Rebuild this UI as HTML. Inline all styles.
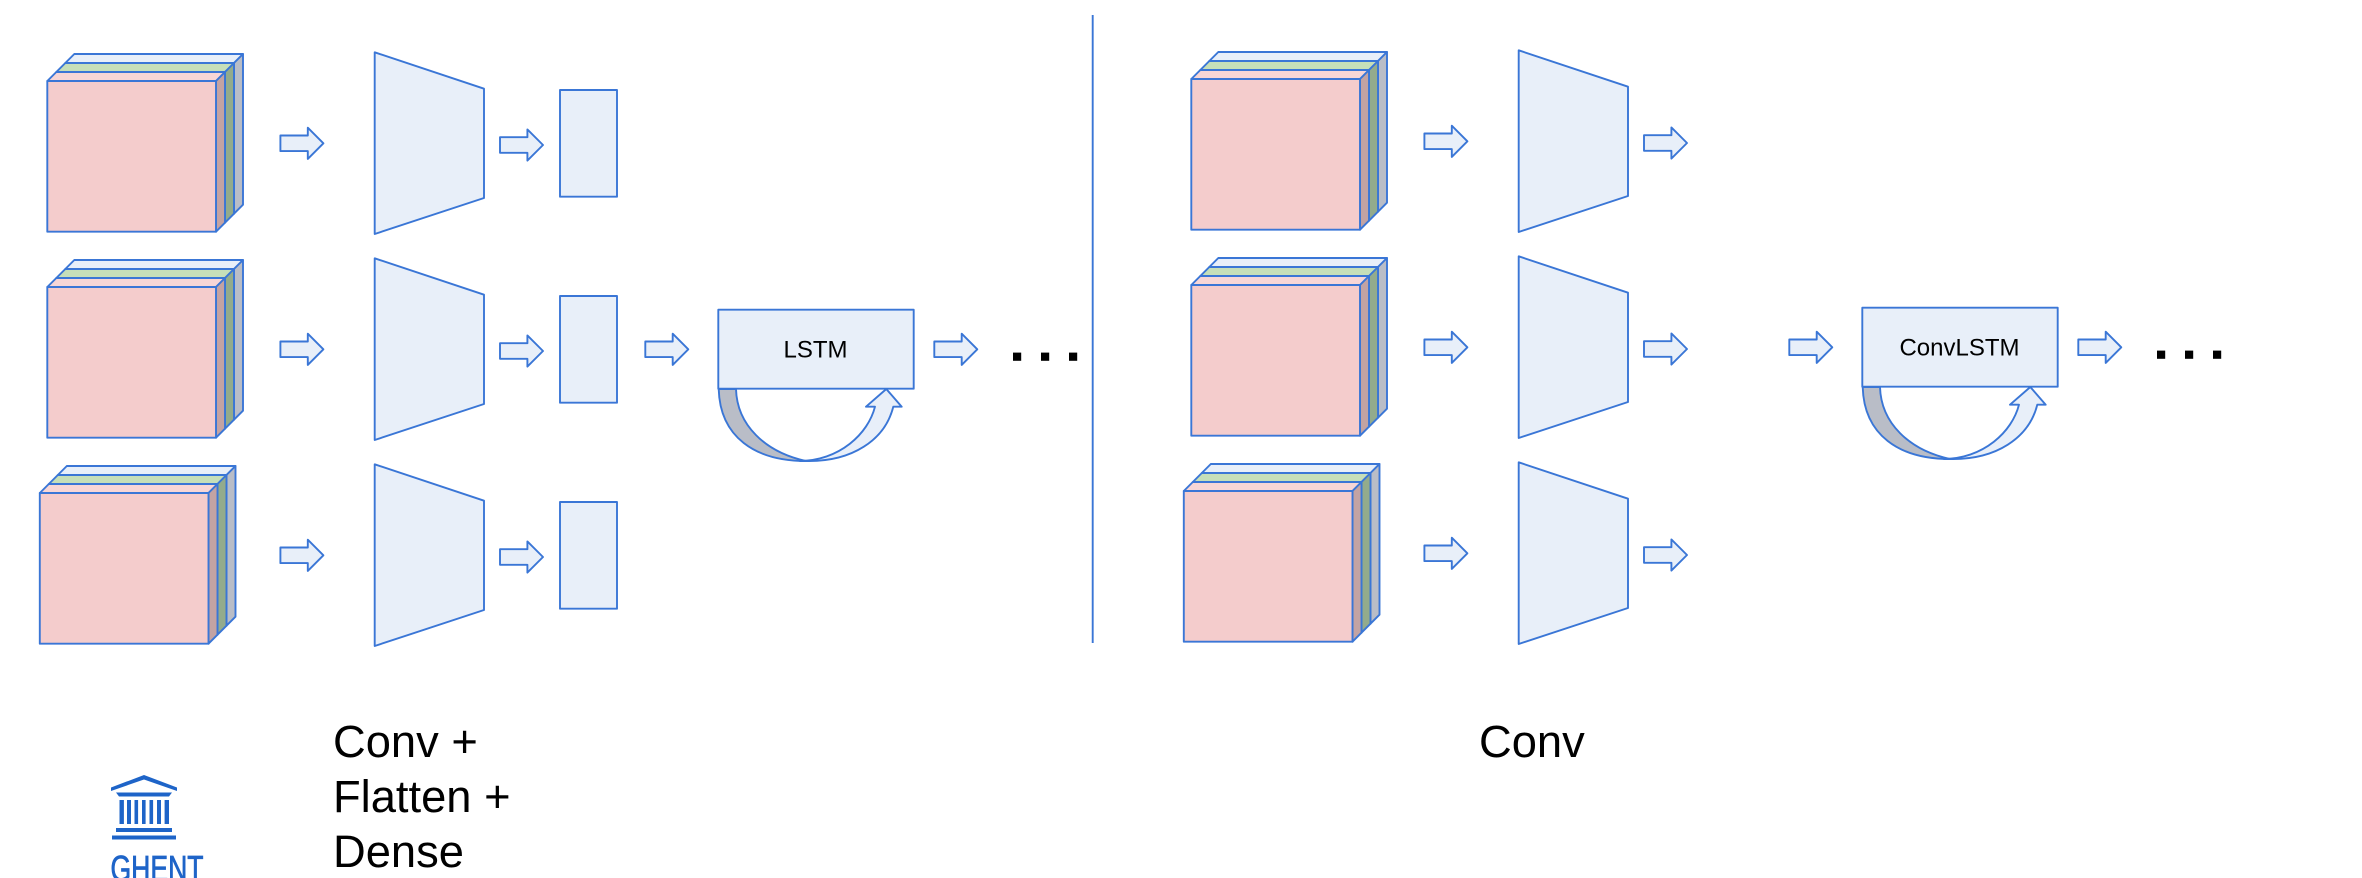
<!DOCTYPE html>
<html>
<head>
<meta charset="utf-8">
<style>
html,body{margin:0;padding:0;background:#fff;width:2362px;height:878px;overflow:hidden}
svg{display:block}
text{font-family:"Liberation Sans",sans-serif;fill:#000}
.s{stroke:#3a76d6;stroke-width:1.9;stroke-linejoin:round}
.f{fill:#e8eff9}
</style>
</head>
<body>
<svg width="2362" height="878" viewBox="0 0 2362 878" xmlns="http://www.w3.org/2000/svg">
<defs>
  <g id="cube" class="s">
    <!-- back layer -->
    <polygon points="65.3,63 74.3,54 243,54 234,63" fill="#e8eff9"/>
    <polygon points="234,63 243,54 243,204.7 234,213.7" fill="#b9bdc7"/>
    <!-- middle layer -->
    <polygon points="56.3,72 65.3,63 234,63 225,72" fill="#c6dfb9"/>
    <polygon points="225,72 234,63 234,213.7 225,222.7" fill="#93ab8c"/>
    <!-- front layer -->
    <polygon points="47.3,81 56.3,72 225,72 216,81" fill="#f7d6d6"/>
    <polygon points="216,81 225,72 225,222.7 216,231.7" fill="#c3a3a3"/>
    <rect x="47.3" y="81" width="168.7" height="150.7" fill="#f4cccc"/>
  </g>
  <polygon id="trap" class="s f" points="374.7,52.3 484,88.7 484,198 374.7,234"/>
  <polygon id="arr" class="s f" points="0,-7.8 27.4,-7.8 27.4,-15.6 43,0 27.4,15.6 27.4,7.8 0,7.8"/>
  <g id="loop" class="s">
    <path d="M718.7,389 C720,437 755,461 806,461 C765,452 737,425 736,389 Z" fill="#b9bdc7"/>
    <path d="M806,461 C852,462 885,440 893.3,406.7 L901.7,406.7 L886.3,389 L866,406.7 L875,406.7 C868,434 840,460 800,461 Z" fill="#e8eff9"/>
    <rect x="718.3" y="309.7" width="195.4" height="79" fill="#e8eff9"/>
  </g>
  <g id="dots" fill="#000">
    <rect x="1013" y="352.6" width="8.2" height="8.2"/>
    <rect x="1041" y="352.6" width="8.2" height="8.2"/>
    <rect x="1069" y="352.6" width="8.2" height="8.2"/>
  </g>
</defs>

<!-- LEFT -->
<use href="#cube"/>
<use href="#cube" y="206"/>
<use href="#cube" x="-7.5" y="412"/>
<use href="#trap"/>
<use href="#trap" y="206"/>
<use href="#trap" y="412"/>
<use href="#arr" x="280.4" y="143.3"/>
<use href="#arr" x="280.4" y="349.3"/>
<use href="#arr" x="280.4" y="555.3"/>
<use href="#arr" x="500" y="145"/>
<use href="#arr" x="500" y="351"/>
<use href="#arr" x="500" y="557"/>
<rect class="s f" x="560" y="90" width="57" height="106.7"/>
<rect class="s f" x="560" y="296" width="57" height="106.7"/>
<rect class="s f" x="560" y="502" width="57" height="106.7"/>
<use href="#arr" x="645.3" y="349.3"/>
<use href="#arr" x="934.3" y="349.3"/>
<use href="#loop"/>
<text x="815.5" y="357.6" font-size="24" text-anchor="middle">LSTM</text>
<use href="#dots"/>

<line x1="1092.7" y1="15" x2="1092.7" y2="643" stroke="#3a76d6" stroke-width="1.9"/>

<!-- RIGHT -->
<g transform="translate(1144,-2)">
  <use href="#cube"/>
  <use href="#cube" y="206"/>
  <use href="#cube" x="-7.5" y="412"/>
  <use href="#trap"/>
  <use href="#trap" y="206"/>
  <use href="#trap" y="412"/>
  <use href="#arr" x="280.4" y="143.3"/>
  <use href="#arr" x="280.4" y="349.3"/>
  <use href="#arr" x="280.4" y="555.3"/>
  <use href="#arr" x="500" y="145"/>
  <use href="#arr" x="500" y="351"/>
  <use href="#arr" x="500" y="557"/>
  <use href="#arr" x="645.3" y="349.3"/>
  <use href="#arr" x="934.3" y="349.3"/>
  <use href="#loop"/>
  <text x="815.5" y="357.6" font-size="24" text-anchor="middle">ConvLSTM</text>
  <use href="#dots"/>
</g>

<!-- captions -->
<text x="333" y="757" font-size="45.3">Conv +</text>
<text x="333" y="812" font-size="45.3">Flatten +</text>
<text x="333" y="867" font-size="45.3">Dense</text>
<text x="1479" y="757" font-size="45.3">Conv</text>

<!-- logo -->
<g fill="#1e64c8">
  <polygon points="144,775 177,787.5 177,791 144,779.5 111,791 111,787.5"/>
  <polygon points="116,792.5 172,792.5 169,796.5 119,796.5"/>
  <rect x="119.5" y="800" width="4.4" height="24"/>
  <rect x="127" y="800" width="4" height="24"/>
  <rect x="134.5" y="800" width="3.6" height="24"/>
  <rect x="142" y="800" width="3.6" height="24"/>
  <rect x="149.5" y="800" width="3.6" height="24"/>
  <rect x="157" y="800" width="4" height="24"/>
  <rect x="164.6" y="800" width="4.4" height="24"/>
  <rect x="116" y="828" width="56" height="4"/>
  <rect x="112" y="835.5" width="64" height="4"/>
</g>
<text x="110.5" y="881" font-size="36" textLength="93" lengthAdjust="spacingAndGlyphs" style="fill:#1e64c8;stroke:#1e64c8;stroke-width:0.8">GHENT</text>
</svg>
</body>
</html>
